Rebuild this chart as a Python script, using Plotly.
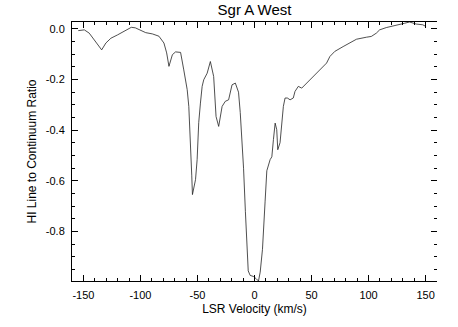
import plotly.graph_objects as go

# HI absorption profile toward Sgr A West
velocity = [
    -154.5, -149.2, -144.9, -140.5, -137.0, -134.0, -130.3, -125.9, -120.1, -114.3,
    -111.3, -108.0, -104.5, -101.2, -95.4, -89.5, -83.8, -79.4, -77.0, -75.0,
    -72.0, -69.2, -64.8, -62.0, -59.0, -57.6, -56.1, -55.0, -54.4, -53.0,
    -51.7, -50.3, -48.9, -47.4, -45.9, -44.5, -41.5, -38.7, -35.8, -33.7,
    -31.4, -28.4, -25.6, -22.7, -19.7, -16.8, -14.0, -12.5, -11.0, -9.6,
    -8.0, -6.6, -5.5, -3.8, -1.0, 1.5, 3.5, 5.0, 7.0, 9.3,
    10.8, 13.7, 15.2, 16.6, 18.1, 19.5, 20.4, 22.4, 23.9, 25.3,
    26.8, 28.8, 31.2, 34.0, 35.5, 38.4, 41.4, 45.7, 50.1, 54.5,
    58.8, 63.2, 66.1, 70.4, 77.7, 83.5, 89.4, 98.1, 102.4, 106.8,
    109.7, 115.5, 124.3, 131.5, 135.9, 141.7, 147.5, 150.4,
]
ratio = [
    -0.007, -0.004, -0.017, -0.043, -0.063, -0.083, -0.056, -0.037, -0.024, -0.011,
    -0.001, 0.006, 0.004, -0.004, -0.015, -0.020, -0.029, -0.056, -0.095, -0.148,
    -0.102, -0.091, -0.093, -0.162, -0.240, -0.306, -0.437, -0.580, -0.654, -0.620,
    -0.595, -0.516, -0.370, -0.293, -0.227, -0.201, -0.175, -0.129, -0.188, -0.346,
    -0.385, -0.306, -0.286, -0.280, -0.221, -0.214, -0.250, -0.330, -0.430, -0.550,
    -0.720, -0.860, -0.955, -0.973, -0.977, -0.986, -0.995, -0.960, -0.870, -0.680,
    -0.560, -0.516, -0.505, -0.437, -0.372, -0.398, -0.477, -0.449, -0.359, -0.306,
    -0.273, -0.273, -0.280, -0.273, -0.247, -0.227, -0.234, -0.214, -0.194, -0.175,
    -0.155, -0.135, -0.109, -0.089, -0.070, -0.056, -0.041, -0.033, -0.030, -0.017,
    -0.004, 0.005, 0.013, 0.022, 0.027, 0.019, 0.016, 0.009,
]

x_ticks = [-150, -100, -50, 0, 50, 100, 150]
x_labels = ['-150', '-100', '-50', '0', '50', '100', '150']
y_ticks = [0.0, -0.2, -0.4, -0.6, -0.8]
y_labels = ['0.0', '-0.2', '-0.4', '-0.6', '-0.8']

font_name = 'Liberation Sans, Arial, sans-serif'

fig = go.Figure()

fig.add_trace(go.Scatter(
    x=velocity,
    y=ratio,
    mode='lines',
    line=dict(color='#222222', width=0.8),
    showlegend=False,
    hoverinfo='skip'
))

# dummy trace so the right-hand tick axis gets drawn
fig.add_trace(go.Scatter(x=[None], y=[None], yaxis='y2', showlegend=False))

fig.update_layout(
    template='none',
    width=458,
    height=327,
    margin=dict(l=72, r=21, t=22, b=46),
    paper_bgcolor='white',
    plot_bgcolor='white',
    font=dict(family=font_name, color='black', size=11),
    title=dict(
        text='Sgr A West',
        font=dict(size=15, color='black'),
        x=0.5, xanchor='center',
        xref='paper',
        y=1, yref='container', yanchor='top', pad=dict(t=4),
    ),
    xaxis=dict(
        automargin=False,
        range=[-160, 160],
        showgrid=False, zeroline=False,
        showline=True, linecolor='black', linewidth=1,
        mirror='ticks',
        ticks='inside', ticklen=6, tickcolor='black',
        tickmode='array', tickvals=x_ticks, ticktext=x_labels,
        minor=dict(ticks='inside', ticklen=3, dtick=10, tick0=0, tickcolor='black'),
        tickfont=dict(size=11),
        ticklabelstandoff=4,
        title=dict(text='LSR Velocity (km/s)', font=dict(size=12), standoff=4),
    ),
    yaxis=dict(
        automargin=False,
        range=[-0.995, 0.027],
        showgrid=False, zeroline=False,
        showline=True, linecolor='black', linewidth=1,
        ticks='inside', ticklen=6, tickcolor='black',
        tickmode='array', tickvals=y_ticks, ticktext=y_labels,
        minor=dict(ticks='inside', ticklen=3, dtick=0.05, tick0=0, tickcolor='black'),
        tickfont=dict(size=11),
        ticklabelstandoff=4,
        title=dict(text='HI Line to Continuum Ratio', font=dict(size=12), standoff=6),
    ),
    yaxis2=dict(
        automargin=False,
        overlaying='y', side='right',
        range=[-0.995, 0.027],
        showgrid=False, zeroline=False, showline=False,
        showticklabels=False,
        ticks='inside', ticklen=6, tickcolor='black',
        tickmode='array', tickvals=y_ticks,
        minor=dict(ticks='inside', ticklen=3, dtick=0.05, tick0=0, tickcolor='black'),
    ),
)

# the page body has a default 8px margin; drop it so the figure sits at 0,0
fig.write_html(
    'out.html',
    config={'displayModeBar': False},
    post_script="document.body.style.margin='0';"
)
